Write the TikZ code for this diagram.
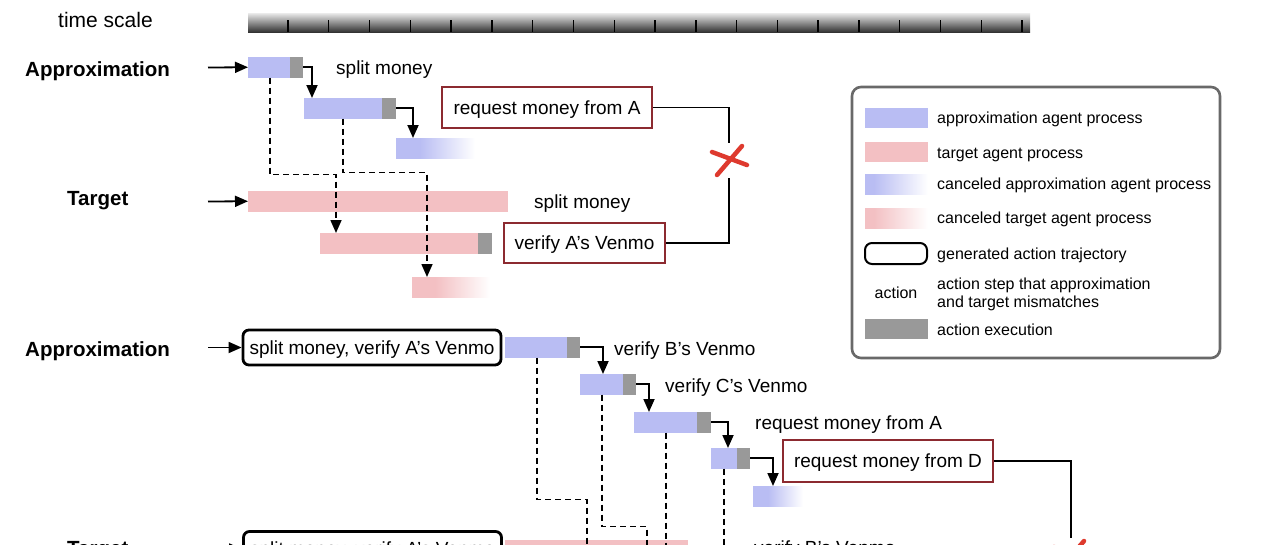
\documentclass[tikz,border=0pt]{standalone}
\usepackage{fontspec}
\setmainfont{Liberation Sans}
\usetikzlibrary{arrows.meta,calc}
\definecolor{apblue}{RGB}{185,189,243}
\definecolor{tgpink}{RGB}{243,192,195}
\definecolor{exgray}{RGB}{153,153,153}
\definecolor{boxred}{RGB}{140,42,48}
\definecolor{crossred}{RGB}{222,58,46}
\definecolor{legray}{RGB}{105,105,105}
\pgfdeclarehorizontalshading{bluefade}{100bp}{color(0bp)=(apblue); color(25bp)=(apblue); color(40bp)=(apblue); color(75bp)=(white); color(100bp)=(white)}
\pgfdeclarehorizontalshading{pinkfade}{100bp}{color(0bp)=(tgpink); color(25bp)=(tgpink); color(40bp)=(tgpink); color(75bp)=(white); color(100bp)=(white)}
\pgfdeclarehorizontalshading{bluefadeL}{100bp}{color(0bp)=(apblue); color(25bp)=(apblue); color(32bp)=(apblue); color(75bp)=(white); color(100bp)=(white)}
\pgfdeclarehorizontalshading{pinkfadeL}{100bp}{color(0bp)=(tgpink); color(25bp)=(tgpink); color(32bp)=(tgpink); color(75bp)=(white); color(100bp)=(white)}
\begin{document}
\begin{tikzpicture}[x=1pt,y=-1pt,
  every node/.style={font=\fontsize{19}{22}\selectfont},
  bar/.style={inner sep=0pt,outer sep=0pt,anchor=north west,minimum height=20.5pt,draw=none},
  abar/.style={bar,fill=apblue},
  tbar/.style={bar,fill=tgpink},
  gbar/.style={bar,fill=exgray},
  afade/.style={bar,shade,shading=bluefade},
  tfade/.style={bar,shade,shading=pinkfade},
  tip/.style={-{Triangle[length=13pt,width=11pt]}},
  conn/.style={draw=black,line width=1.8pt,tip},
  dconn/.style={draw=black,line width=1.6pt,dash pattern=on 6pt off 4pt,tip},
  redbox/.style={draw=boxred,line width=2.8pt,fill=white,inner sep=2pt,text depth=0pt},
  trajbox/.style={draw=black,line width=2.8pt,rounded corners=6pt,fill=white,inner sep=2pt,text depth=0pt},
  lab/.style={anchor=west,inner sep=0pt,text depth=0pt,font=\bfseries\fontsize{20.5}{24}\selectfont},
  txt/.style={anchor=west,inner sep=0pt,text depth=0pt},
  ltxt/.style={anchor=west,inner sep=0pt,font=\fontsize{16}{18}\selectfont,align=left},
  sw/.style={inner sep=0pt,outer sep=0pt,anchor=north west,minimum width=63pt,minimum height=20pt},
  blk/.style={draw=black,line width=1.8pt},
  xmk/.style={draw=crossred,line width=4.5pt,line cap=round}
]
\useasboundingbox (0,0) rectangle (1280,544);
\clip (0,0) rectangle (1280,544);

% ---------- time scale ----------
\node[anchor=west,inner sep=0pt,text depth=0pt,font=\fontsize{21}{24}\selectfont] (ts) at (58,20) {time scale};
\node[anchor=north west,inner sep=0pt,outer sep=0pt,minimum width=782pt,minimum height=19pt,
      top color=black!8,middle color=black!42,bottom color=black!80] (tsbar) at (248,13) {};
\foreach \k in {0,...,18}{
  \draw[line width=1.4pt] ({288+40.78*\k},20) -- ({288+40.78*\k},32);
}

% ---------- section 1 ----------
\node[lab] (L1) at (25,69) {Approximation};
\node[lab] (L2) at (67,198) {Target};

\node[abar,minimum width=42pt] (a1) at (248,57) {};
\node[gbar,minimum width=13pt] (a1g) at (290,57) {};
\node[abar,minimum width=78pt] (a2) at (304,98) {};
\node[gbar,minimum width=14pt] (a2g) at (382,98) {};
\node[afade,minimum width=79pt] (a3) at (396,138) {};

\node[tbar,minimum width=260pt] (t1) at (248,191) {};
\node[tbar,minimum width=158pt] (t2) at (320,233) {};
\node[gbar,minimum width=14pt] (t2g) at (478,233) {};
\node[tfade,minimum width=78pt] (t3) at (412,277) {};

\coordinate (in1) at (208,67.5);
\coordinate (in2) at (208,201.5);
\draw[conn] (in1) -- (a1.west);
\draw[conn] (in2) -- (t1.west);

\draw[conn] (a1g.east) -| ($(a2.north west)+(8,0)$);
\draw[conn] (a2g.east) -| ($(a3.north west)+(17,0)$);

\draw[dconn] ($(a1.south west)+(22,0)$) -- ++(0,97) -| ($(t2.north west)+(16,0)$);
\draw[dconn] ($(a2.south west)+(39,0)$) -- ++(0,54) -| ($(t3.north west)+(15,0)$);

\node[txt] (s1) at (336,68) {split money};
\node[txt] (s2) at (534,202) {split money};

\node[redbox,minimum width=210pt,minimum height=41pt] (reqA) at (547,107.5) {request money from A};
\node[redbox,minimum width=161pt,minimum height=40pt] (verA) at (584.5,243) {verify A’s Venmo};

\coordinate (x1) at (729,161);
\draw[blk] (reqA.east) -| ($(x1)+(0,-18)$);
\draw[blk] (verA.east) -| ($(x1)+(0,17)$);
\draw[xmk] ($(x1)+(13,-15)$) -- ($(x1)+(-12,14)$);
\draw[xmk] ($(x1)+(-17,-9)$) -- ($(x1)+(18,4)$);

% ---------- legend ----------
\node[draw=legray,line width=2.6pt,rounded corners=9pt,minimum width=368pt,minimum height=271pt,inner sep=0pt] (leg) at (1036,222.5) {};
\node[sw,fill=apblue] (sw1) at (865,108) {};
\node[sw,fill=tgpink] (sw2) at (865,142) {};
\node[sw,shade,shading=bluefadeL] (sw3) at (865,174) {};
\node[sw,shade,shading=pinkfadeL] (sw4) at (865,208) {};
\node[sw,draw=black,line width=2pt,rounded corners=7pt,minimum width=62pt,minimum height=21pt] (sw5) at (865,243) {};
\node[inner sep=0pt,text depth=0pt,font=\fontsize{16}{18}\selectfont] (sw6) at (896,293) {action};
\node[sw,fill=exgray] (sw7) at (865,319) {};

\node[ltxt,text depth=0pt] (lt1) at (937,118) {approximation agent process};
\node[ltxt,text depth=0pt] (lt2) at (937,153) {target agent process};
\node[ltxt,text depth=0pt] (lt3) at (937,184) {canceled approximation agent process};
\node[ltxt,text depth=0pt] (lt4) at (937,218) {canceled target agent process};
\node[ltxt,text depth=0pt] (lt5) at (937,254) {generated action trajectory};
\node[ltxt] (lt6) at (937,294) {action step that approximation\\and target mismatches};
\node[ltxt,text depth=0pt] (lt7) at (937,330) {action execution};

% ---------- section 2 ----------
\node[lab] (L3) at (25,349) {Approximation};
\node[lab] (L4) at (67,548) {Target};

\node[trajbox,minimum width=258pt,minimum height=35pt] (tr1) at (372,347.5) {split money, verify A’s Venmo};
\node[trajbox,minimum width=258pt,minimum height=35pt] (tr2) at (372.5,549) {split money, verify A’s Venmo};

\coordinate (in3) at (208,347.5);
\coordinate (in4) at (208,549);
\draw[conn] (in3) -- (tr1.west);
\draw[conn] (in4) -- (tr2.west);

\node[abar,minimum width=62pt] (b1) at (505,337) {};
\node[gbar,minimum width=13pt] (b1g) at (567,337) {};
\node[abar,minimum width=43pt] (b2) at (580,374) {};
\node[gbar,minimum width=13pt] (b2g) at (623,374) {};
\node[abar,minimum width=63pt] (b3) at (634,412) {};
\node[gbar,minimum width=14pt] (b3g) at (697,412) {};
\node[abar,minimum width=26pt] (b4) at (711,448) {};
\node[gbar,minimum width=13pt] (b4g) at (737,448) {};
\node[afade,minimum width=50pt] (b5) at (753,486) {};

\node[tbar,minimum width=183pt] (tt1) at (505,540) {};

\draw[conn] (b1g.east) -| ($(b2.north west)+(23,0)$);
\draw[conn] (b2g.east) -| ($(b3.north west)+(15,0)$);
\draw[conn] (b3g.east) -| ($(b4.north west)+(17,0)$);
\draw[conn] (b4g.east) -| ($(b5.north west)+(20,0)$);

\coordinate (d1) at (587,585);
\coordinate (d2) at (647,585);
\coordinate (d3) at (666,585);
\coordinate (d4) at (724,585);
\draw[dconn] ($(b1.south west)+(32,0)$) -- ++(0,142) -| (d1);
\draw[dconn] ($(b2.south west)+(22,0)$) -- ++(0,132) -| (d2);
\draw[dconn] ($(b3.south west)+(32,0)$) -- (d3);
\draw[dconn] ($(b4.south west)+(13,0)$) -- (d4);

\node[txt] (s3) at (614,349) {verify B’s Venmo};
\node[txt] (s4) at (665,386) {verify C’s Venmo};
\node[txt] (s5) at (755,423) {request money from A};
\node[txt] (s6) at (754,548) {verify B’s Venmo};

\node[redbox,minimum width=210pt,minimum height=42pt] (reqD) at (888,461) {request money from D};

\coordinate (x2) at (1071,556);
\draw[blk] (reqD.east) -| ($(x2)+(0,-18)$);
\draw[xmk] ($(x2)+(13,-15)$) -- ($(x2)+(-12,14)$);
\draw[xmk] ($(x2)+(-17,-9)$) -- ($(x2)+(18,4)$);
\end{tikzpicture}
\end{document}
